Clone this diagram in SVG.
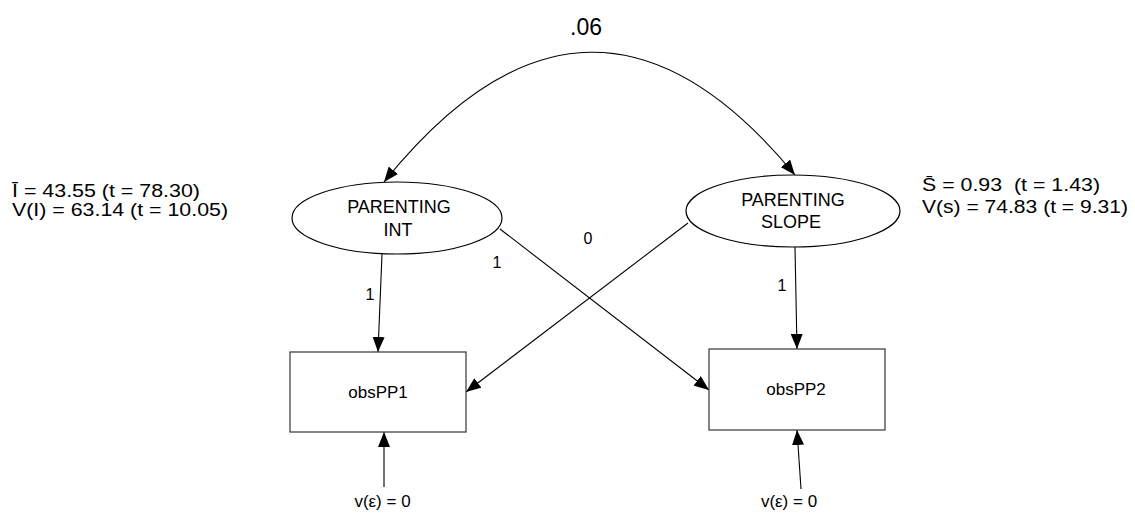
<svg xmlns="http://www.w3.org/2000/svg" width="1135" height="513" viewBox="0 0 1135 513">
<style>
text{font-family:"Liberation Sans",Arial,sans-serif;fill:#000}
.node ellipse{fill:#fff;stroke:#000;stroke-width:1.2}
.node rect{fill:#fff;stroke:#444;stroke-width:1.3}
.lbl{font-size:18px;text-anchor:middle}
.obs{font-size:17px;text-anchor:middle}
.ann{font-size:19px}
.edge{font-size:16px;text-anchor:middle}
.conn path,.conn line{fill:none;stroke:#000;stroke-width:1.1}
</style>
<defs>
<marker id="ah" viewBox="0 0 15 12" refX="15" refY="6" markerWidth="15" markerHeight="12" markerUnits="userSpaceOnUse" orient="auto-start-reverse">
<path d="M0,0 L15,6 L0,12 z" fill="#000"/>
</marker>
</defs>
<rect width="1135" height="513" fill="#fff"/>
<g id="connectors" class="conn">
<path d="M384,182 Q590,-74 795,175" marker-start="url(#ah)" marker-end="url(#ah)"/>
<line x1="382" y1="254" x2="378" y2="352" marker-end="url(#ah)"/>
<line x1="795" y1="247" x2="797" y2="349" marker-end="url(#ah)"/>
<line x1="500" y1="229" x2="709" y2="390" marker-end="url(#ah)"/>
<line x1="688" y1="223" x2="466" y2="392" marker-end="url(#ah)"/>
<line x1="384" y1="487" x2="384" y2="432" marker-end="url(#ah)"/>
<line x1="801" y1="489" x2="797" y2="430" marker-end="url(#ah)"/>
</g>
<g id="int" class="node">
<ellipse cx="397" cy="218" rx="105" ry="36"/>
<text class="lbl" x="399" y="213">PARENTING</text>
<text class="lbl" x="398" y="236">INT</text>
</g>
<g id="slope" class="node">
<ellipse cx="793" cy="211" rx="107" ry="36"/>
<text class="lbl" x="793" y="206">PARENTING</text>
<text class="lbl" x="791" y="228">SLOPE</text>
</g>
<g id="obsPP1" class="node">
<rect x="290" y="352" width="176" height="80"/>
<text class="obs" x="378" y="398">obsPP1</text>
</g>
<g id="obsPP2" class="node">
<rect x="709" y="349" width="176" height="81"/>
<text class="obs" x="796" y="395">obsPP2</text>
</g>
<g id="labels">
<text class="edge" x="586" y="35" style="font-size:23px">.06</text>
<text class="edge" x="370" y="300">1</text>
<text class="edge" x="497" y="268">1</text>
<text class="edge" x="588" y="244">0</text>
<text class="edge" x="782" y="291">1</text>
<text class="edge" x="382.5" y="507" style="font-size:17px">v(ε) = 0</text>
<text class="edge" x="789" y="507" style="font-size:17px">v(ε) = 0</text>
<text class="ann" x="12" y="196.5" textLength="188" lengthAdjust="spacingAndGlyphs">Ī = 43.55 (t = 78.30)</text>
<text class="ann" x="12" y="215.5" textLength="216" lengthAdjust="spacingAndGlyphs">V(I) = 63.14 (t = 10.05)</text>
<text class="ann" x="922" y="190.5" textLength="178" lengthAdjust="spacingAndGlyphs" style="white-space:pre">S̄ = 0.93  (t = 1.43)</text>
<text class="ann" x="922" y="212.5" textLength="206" lengthAdjust="spacingAndGlyphs">V(s) = 74.83 (t = 9.31)</text>
</g>
</svg>
